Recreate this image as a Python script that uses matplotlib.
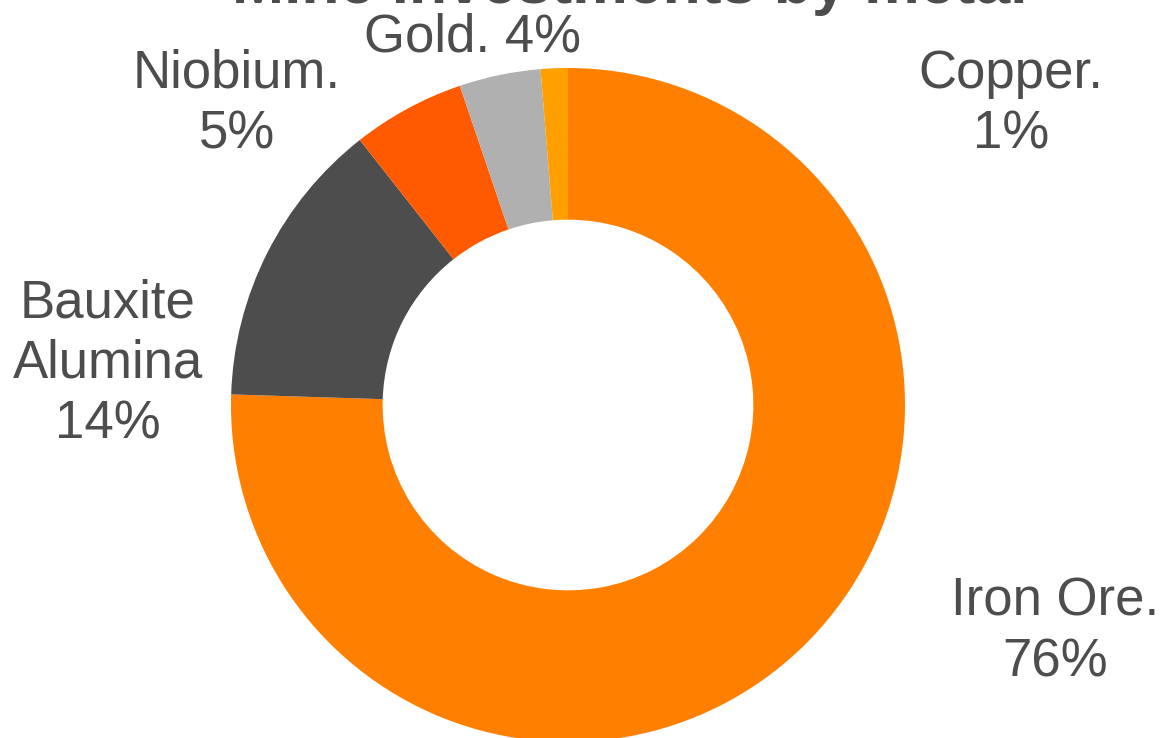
import numpy as np
from matplotlib import pyplot as plt

plt.rcParams["font.family"] = ["Liberation Sans", "DejaVu Sans"]

TITLE = "Mine investments by metal"
METALS = ["Iron Ore.", "Bauxite\nAlumina", "Niobium.", "Gold.", "Copper."]
SHARES = [75.5, 13.9, 5.4, 3.9, 1.3]
PCT_LABELS = ["76%", "14%", "5%", "4%", "1%"]
COLORS = ["#FF8000", "#4D4D4D", "#FF5A00", "#B0B0B0", "#FFA000"]

TEXT_COLOR = "#4D4D4D"
W, H = 1165, 738
CX, CY, R = 568, 405, 337  # pixel centre / radius of the donut

fig = plt.figure(figsize=(W / 100, H / 100), dpi=100)
ax = fig.add_axes([0, 0, 1, 1])
ax.pie(
    SHARES,
    colors=COLORS,
    startangle=90,
    counterclock=False,
    radius=1.0,
    wedgeprops=dict(width=0.45, linewidth=0),
)
# map pixels to data units so the ring lands where it does in the picture
ax.set_xlim(-CX / R, (W - CX) / R)
ax.set_ylim(-(H - CY) / R, CY / R)
ax.set_aspect("auto")
ax.axis("off")


def px(x, y):
    return x / W, 1 - y / H


# label placements (pixel centres)
label_pos = {
    "Iron Ore.": (1055, 632),
    "Bauxite\nAlumina": (108, 364),
    "Niobium.": (237, 104),
    "Gold.": (472, 38),
    "Copper.": (1011, 104),
}
for name, pct in zip(METALS, PCT_LABELS):
    sep = " " if name == "Gold." else "\n"
    x, y = label_pos[name]
    fig.text(
        *px(x, y),
        f"{name}{sep}{pct}",
        ha="center",
        va="center",
        fontsize=38,
        color=TEXT_COLOR,
        linespacing=1.27,
    )

# title sits mostly above the top edge, as in the source image
fig.text(*px(630, 3), TITLE, ha="center", va="baseline", fontsize=45,
         fontweight="bold", color=TEXT_COLOR)

fig.savefig("out.png", dpi=100)
